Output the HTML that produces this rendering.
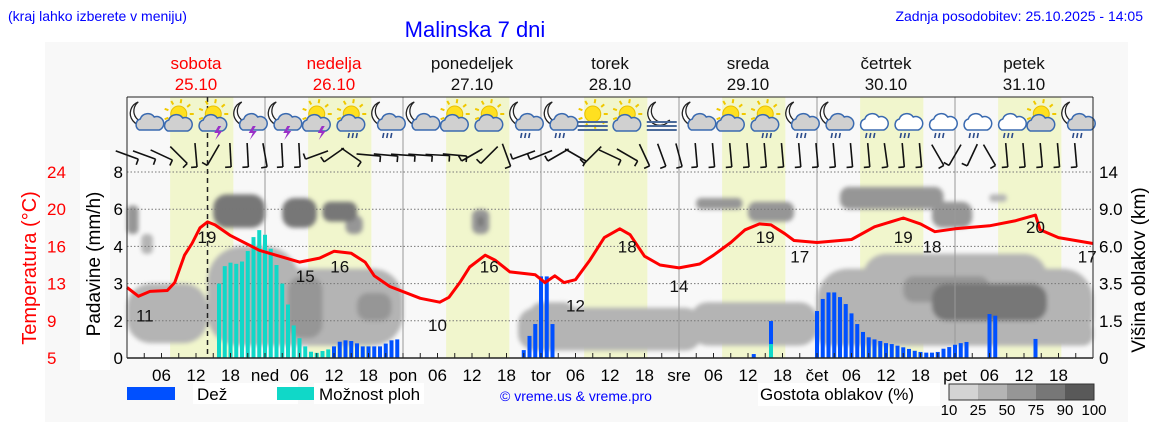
<!DOCTYPE html>
<html><head><meta charset="utf-8"><style>
html,body{margin:0;padding:0;background:#fff;}
svg{display:block;font-family:"Liberation Sans",sans-serif;}
</style></head><body>
<svg id="chart" width="1152" height="443" viewBox="0 0 1152 443" xmlns="http://www.w3.org/2000/svg">
<defs><filter id="soft" x="-20%" y="-20%" width="140%" height="140%"><feGaussianBlur stdDeviation="2.2"/></filter></defs>
<rect x="45" y="42" width="1083" height="380" fill="#f8f8f8"/>
<rect x="80" y="150" width="30" height="220" fill="#fff"/>
<text x="8" y="21" font-size="14" fill="#0000ff">(kraj lahko izberete v meniju)</text>
<text x="475" y="37" font-size="22" fill="#0000ff" text-anchor="middle">Malinska 7 dni</text>
<text x="1143" y="21" font-size="14" fill="#0000ff" text-anchor="end">Zadnja posodobitev: 25.10.2025 - 14:05</text>
<g id="bands"></g>
<g id="clouds" filter="url(#soft)"></g>
<g id="grid"></g>
<g id="bars"></g>
<g id="temp"></g>
<g id="icons"></g>
<g id="wind"></g>
<g id="axes"></g>
<g id="legend">
<rect x="127" y="387" width="48" height="13" fill="#0050ff"/>
<rect x="193" y="383" width="105" height="21" fill="#fff"/>
<text x="197" y="400" font-size="17">Dež</text>
<rect x="277" y="387" width="48" height="13" fill="#10d8c8"/>
<rect x="314" y="383" width="110" height="21" fill="#fff"/>
<text x="319" y="400" font-size="17">Možnost ploh</text>
<text x="500" y="401" font-size="14" fill="#0000ff">© vreme.us &amp; vreme.pro</text>
<rect x="758" y="383" width="182" height="23" fill="#fff"/>
<text x="760" y="400" font-size="17">Gostota oblakov (%)</text>
</g>
</svg>
<script>
const NS="http://www.w3.org/2000/svg";
// ---- data ----
const dayNames=["sobota","nedelja","ponedeljek","torek","sreda","četrtek","petek"];
const dayDates=["25.10","26.10","27.10","28.10","29.10","30.10","31.10"];
const dayShort=["ned","pon","tor","sre","čet","pet"];
const tempHours=[0,2,4,7,8.3,10,11.3,12.7,14,15.3,18,23,30,33.5,36,39,41.4,43,45.7,51,54.4,56,58,59.6,62.3,64,66.6,71,72.7,74.4,76,78,80.5,83,85.7,87.5,90,92.7,96,99.6,102,105,107.5,110,112,114.4,116,120,126,130,135,138,140.5,144,150,154.4,158,158.8,162,168];
const tempValues=[12.2,11.3,11.8,11.9,12.7,15.5,16.7,18.3,18.9,18.6,17.5,16.0,14.8,15.2,15.9,15.7,14.8,13.4,12.3,11.1,10.7,11.2,12.8,14.3,15.5,15.0,13.8,13.5,12.7,13.4,12.7,13.0,15.0,17.3,18.2,17.6,15.4,14.5,14.2,14.6,15.5,16.8,18.1,18.7,18.6,17.7,17.0,16.8,17.1,18.4,19.3,18.7,17.9,18.2,18.5,19.0,19.6,18.1,17.3,16.7];
const tempLabelHours=[3.1,13.9,31,37,54,63,78,87,96,111,117,135,140,158,167];
const tempLabelValues=[11,19,15,16,10,16,12,18,14,19,17,19,18,20,17];
const showerHours=[16,17,18,19,20,21,22,23,24,25,26,27,28,29,30,31,32,33,34,35];
const showerValues=[3.2,3.95,4.1,4.05,4.15,4.6,5.2,5.5,5.3,4.7,4.0,3.2,2.3,1.4,0.85,0.5,0.27,0.22,0.3,0.37];
const rainHours=[36,37,38,39,40,41,42,43,44,45,46,47,69,70,71,72,73,74,109,112,120,121,122,123,124,125,126,127,128,129,130,131,132,133,134,135,136,137,138,139,140,141,142,143,144,145,146,150,151,158];
const rainValues=[0.5,0.7,0.76,0.73,0.63,0.5,0.5,0.5,0.5,0.62,0.76,0.8,0.34,0.95,1.46,3.51,3.51,1.46,0.17,1.59,2.02,2.54,2.82,2.82,2.62,2.32,1.92,1.46,1.12,0.89,0.8,0.73,0.64,0.6,0.53,0.46,0.39,0.31,0.26,0.23,0.23,0.26,0.4,0.47,0.57,0.64,0.69,1.89,1.82,0.82];
const showerPartHours=[112];
const showerPartValues=[0.6];
const rainTickLabels=["8","6","4","3","2","0"];
const tempTickLabels=["24","20","16","13","9","5"];
const cloudTickLabels=["14","9.0","6.0","3.5","1.5","0"];
const cloudKm=[0,1.5,3.5,6,9,14];
const cloudLegend=["10","25","50","75","90","100"];
// cloud blobs: start hour, end hour, km low, km high, density %
const cloudStart=[0,14,14,28,40,0,2.5,15,27,34,38,60,61,68,70,98,99,108,120,120,128,135,140,124,140,150];
const cloudEnd=[14,48,30,34,46,2,4.5,24,33,40,41,63,62,100,78,120,107,116,168,168,160,150,160,142,147,153];
const cloudLow=[0.6,0.5,1.0,0.8,1.5,7,5.5,7.5,7.5,8,7,7,7.6,0.3,1.0,0.5,9,8,0.5,0.5,2,2.5,1.5,9,7.5,10];
const cloudHigh=[3.5,4.5,6.0,4,3,9.5,7,11,10.5,10,8.5,9,8.4,2.2,2.5,2.5,10.5,10,1.5,4.5,5.5,4,3.5,12,10,11];
const cloudDensity=[40,40,30,70,60,55,40,80,75,75,60,55,80,25,30,40,70,60,30,35,45,60,80,50,65,40];
const iconTypes=["mc","sc","ss","ms","ms","ss","scr","mcr","mc","sc","sc","mcr","mcr","sf","sc","mf","mc","sc","scr","mcr","mcr","cr","cr","cr","cr","cr","sc","mcr"];
const windAngles=[70,70,65,45,5,-30,3,3,10,3,3,-70,-55,55,85,85,86,86,87,85,-60,-45,20,-70,-68,-60,60,-45,65,60,25,20,15,5,5,5,5,5,5,5,5,5,5,5,8,5,5,30,-30,-25,30,5,5,5,5,5];

// ---- scales ----
const X0=127,X1=1093,Y0=358,YT=172,TOP=97;
const xh=h=>X0+h*(X1-X0)/168;
const yRain=v=>Y0-v*(Y0-YT)/8;
const yTemp=t=>Y0-(t-5)*(Y0-YT)/19;
const yKm=k=>{for(let i=0;i<cloudKm.length-1;i++){if(k<=cloudKm[i+1]){const f=(k-cloudKm[i])/(cloudKm[i+1]-cloudKm[i]);return Y0-(i+f)*(Y0-YT)/5;}}return YT-(k-14)*7;};
const dcol=d=>d<25?"#d4d4d4":d<50?"#b4b4b4":d<75?"#969696":d<90?"#777777":"#595959";
function mk(tag,attrs,parent,name,txt){const e=document.createElementNS(NS,tag);for(const k in attrs)e.setAttribute(k,attrs[k]);


if(txt!==undefined)e.textContent=txt;parent.appendChild(e);return e;}
const G=id=>document.getElementById(id);

mk("rect",{x:X0,y:TOP,width:X1-X0,height:Y0-TOP,fill:"#f8f8f8"},G("bands"),"plot-area");
for(let d=0;d<7;d++){
  mk("rect",{x:xh(d*24+7.5),y:TOP,width:xh(11)-X0,height:Y0-TOP,fill:"#f1f6cd"},G("bands"),"daylight-band");
}
const order=cloudDensity.map((d,i)=>i).sort((a,b)=>cloudDensity[a]-cloudDensity[b]);
order.forEach(i=>{
  const x=xh(cloudStart[i]),w=xh(cloudEnd[i])-x,y=yKm(cloudHigh[i]),h=yKm(cloudLow[i])-y;
  mk("rect",{x:x,y:y,width:w,height:h,rx:Math.min(w,h)/2.5,fill:dcol(cloudDensity[i])},G("clouds"),"cloud-blob");
});
for(let i=1;i<6;i++){
  const y=Y0-i*(Y0-YT)/5;
  mk("line",{x1:X0,x2:X1,y1:y,y2:y,stroke:"#777",'stroke-width':1,'stroke-dasharray':"1.5,2"},G("grid"),"grid-line");
}
for(let d=1;d<7;d++)mk("line",{x1:xh(d*24),x2:xh(d*24),y1:TOP,y2:Y0,stroke:"#999",'stroke-width':1},G("grid"),"day-divider");
mk("line",{x1:xh(14),x2:xh(14),y1:TOP,y2:Y0,stroke:"#222",'stroke-width':1.5,'stroke-dasharray':"5,4"},G("grid"),"now-marker");
const bw=4;
showerHours.forEach((h,i)=>mk("rect",{x:xh(h)-bw/2,y:yRain(showerValues[i]),width:bw,height:Y0-yRain(showerValues[i]),fill:"#10d8c8"},G("bars"),"shower-bar"));
rainHours.forEach((h,i)=>mk("rect",{x:xh(h)-bw/2,y:yRain(rainValues[i]),width:bw,height:Y0-yRain(rainValues[i]),fill:"#0050ff"},G("bars"),"rain-bar"));
showerPartHours.forEach((h,i)=>mk("rect",{x:xh(h)-bw/2,y:yRain(showerPartValues[i]),width:bw,height:Y0-yRain(showerPartValues[i]),fill:"#10d8c8"},G("bars"),"shower-bar"));
mk("polyline",{points:tempHours.map((h,i)=>xh(h).toFixed(1)+","+yTemp(tempValues[i]).toFixed(1)).join(" "),fill:"none",stroke:"#ff0000",'stroke-width':3,'stroke-linejoin':"round"},G("temp"),"temperature-line");
tempLabelHours.forEach((h,i)=>mk("text",{x:xh(h),y:yTemp(tempLabelValues[i])+22,'font-size':17,'text-anchor':"middle",fill:"#111"},G("temp"),"temperature-label",String(tempLabelValues[i])));
mk("line",{x1:X0,x2:X1,y1:TOP,y2:TOP,stroke:"#222",'stroke-width':1},G("axes"),"top-border");
mk("line",{x1:X0,x2:X0,y1:TOP,y2:Y0,stroke:"#222",'stroke-width':1},G("axes"),"left-axis");
mk("line",{x1:X1,x2:X1,y1:TOP,y2:Y0,stroke:"#222",'stroke-width':1},G("axes"),"right-axis");
mk("line",{x1:X0,x2:X1,y1:Y0,y2:Y0,stroke:"#222",'stroke-width':1.5},G("axes"),"x-axis");
for(let h=3;h<168;h+=3)mk("line",{x1:xh(h),x2:xh(h),y1:Y0,y2:Y0-5,stroke:"#222"},G("axes"),"x-tick");
for(let h=6;h<168;h+=6){
  const lab=h%24===0?dayShort[h/24-1]:String(h%24).padStart(2,"0");
  mk("text",{x:xh(h),y:381,'font-size':17,'text-anchor':"middle"},G("axes"),"x-tick-label",lab);
}
for(let i=0;i<6;i++){
  const y=YT+i*(Y0-YT)/5;
  mk("text",{x:123,y:y+6,'font-size':17,'text-anchor':"end"},G("axes"),"rain-tick-label",rainTickLabels[i]);
  mk("text",{x:47,y:y+6,'font-size':17,fill:"#ff0000"},G("axes"),"temp-tick-label",tempTickLabels[i]);
  mk("text",{x:1099,y:y+6,'font-size':17},G("axes"),"cloud-height-tick-label",cloudTickLabels[i]);
}
mk("text",{x:0,y:0,'font-size':20,'text-anchor':"middle",fill:"#ff0000",transform:"translate(36,268) rotate(-90)"},G("axes"),"temperature-axis-title","Temperatura (°C)");
mk("text",{x:0,y:0,'font-size':19,'text-anchor':"middle",transform:"translate(100,264) rotate(-90)"},G("axes"),"rain-axis-title","Padavine (mm/h)");
mk("text",{x:0,y:0,'font-size':19,'text-anchor':"middle",transform:"translate(1145,270) rotate(-90)"},G("axes"),"cloud-axis-title","Višina oblakov (km)");
for(let d=0;d<7;d++){
  const c=d<2?"#ff0000":"#111";
  mk("text",{x:xh(d*24+12),y:69,'font-size':17,'text-anchor':"middle",fill:c},G("axes"),"day-name",dayNames[d]);
  mk("text",{x:xh(d*24+12),y:90,'font-size':17,'text-anchor':"middle",fill:c},G("axes"),"day-date",dayDates[d]);
}
const lg=G("legend");
for(let i=0;i<5;i++)mk("rect",{x:949+i*29,y:384,width:29,height:16,fill:["#d4d4d4","#b4b4b4","#969696","#777777","#595959"][i]},lg,"cloud-scale-box");
mk("rect",{x:949,y:384,width:145,height:16,fill:"none",stroke:"#333"},lg,"cloud-scale-frame");
cloudLegend.forEach((t,i)=>mk("text",{x:949+i*29,y:415,'font-size':15,'text-anchor':"middle"},lg,"cloud-scale-label",t));
function icon(type,cx){
  const g=mk("g",{transform:`translate(${cx},118)`},G("icons"),"weather-icon");
  const sun=type[0]==="s",moon=type[0]==="m";
  if(sun){mk("circle",{cx:0,cy:-4,r:8,fill:"#ffe020",stroke:"#e8c000"},g,"sun");
    for(let a=0;a<360;a+=40){const r=a*Math.PI/180;mk("line",{x1:11*Math.cos(r),y1:-4+11*Math.sin(r),x2:15*Math.cos(r),y2:-4+15*Math.sin(r),stroke:"#f0c800",'stroke-width':2},g,"sun-ray");}}
  if(moon)mk("path",{d:"M-6,-16 A12,12 0 1,0 8,2 A9,9 0 1,1 -6,-16 Z",fill:"#fff",stroke:"#222",'stroke-width':1.3},g,"moon");
  if(type.indexOf("f")>=0){for(let i=0;i<3;i++)mk("line",{x1:-15,x2:15,y1:4+i*4,y2:4+i*4,stroke:"#4a6a9a",'stroke-width':2},g,"fog-line");return;}
  mk("path",{d:"M-8,10 a6,6 0 0,1 1,-11 a8,8 0 0,1 14,-2 a6,6 0 0,1 5,13 Z",fill:type==="cr"?"#fff":"#d0d0d0",stroke:"#3a6ab0",'stroke-width':1.5,transform:sun?"translate(-3,3)":"translate(3,2)"},g,"cloud");
  if(type.indexOf("s",1)>=0)mk("path",{d:"M5,8 l-4,7 h4 l-3,7 l7,-9 h-4 l3,-5 z",fill:"#9a30c8"},g,"lightning");
  if(type.endsWith("r")){for(let i=0;i<3;i++)mk("line",{x1:-2+i*4,x2:-3+i*4,y1:15,y2:20,stroke:"#2a4a8a",'stroke-width':1.6},g,"rain-drops");}
}
iconTypes.forEach((t,i)=>icon(t,xh(i*6+3)));
windAngles.forEach((a,k)=>{
  const x=xh(k*3),r=a*Math.PI/180,L=12,yc=155;
  const x1=x-L*Math.sin(r),y1=yc-L*Math.cos(r),x2=x+L*Math.sin(r),y2=yc+L*Math.cos(r);
  mk("line",{x1:x1,y1:y1,x2:x2,y2:y2,stroke:"#111",'stroke-width':1.6},G("wind"),"wind-barb");
  mk("line",{x1:x2,y1:y2,x2:x2-6*Math.cos(r),y2:y2+6*Math.sin(r),stroke:"#111",'stroke-width':1.6},G("wind"),"wind-barb-tick");
});
</script>
</body></html>
